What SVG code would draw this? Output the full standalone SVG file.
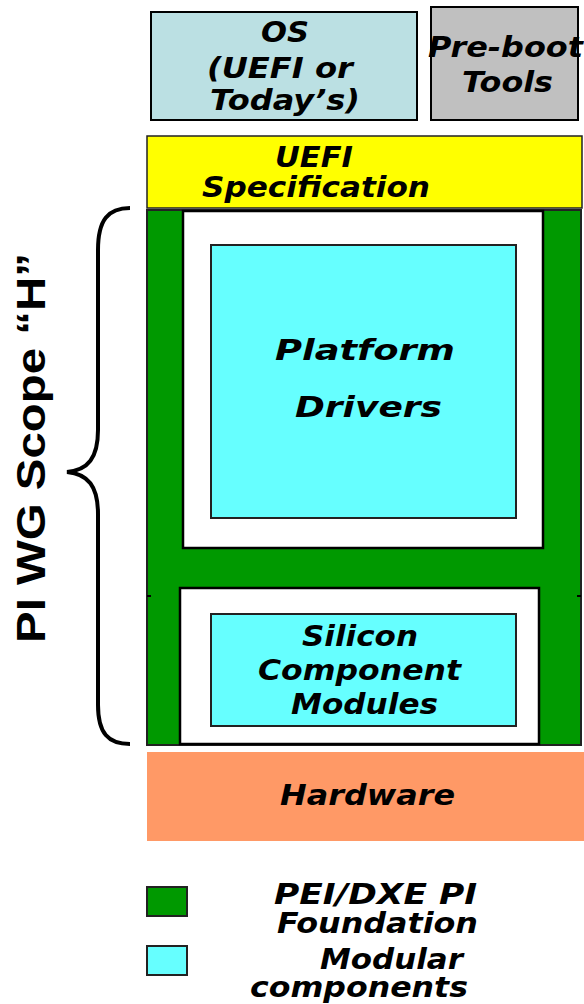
<svg xmlns="http://www.w3.org/2000/svg" width="584" height="1004" viewBox="0 0 584 1004">
  <style>
    .t { font-family: "DejaVu Sans", Verdana, sans-serif; font-weight: bold; font-style: italic; font-size: 29px; fill: #000; }
    .box { stroke: #000; stroke-width: 2; }
    .mod { fill: #66FFFF; stroke: #222; stroke-width: 2; }
    .fnd { fill: #009900; stroke: #222; stroke-width: 2; }
    .hole { fill: #FFFFFF; stroke: #000; stroke-width: 2.5; }
  </style>

  <!-- OS layer -->
  <g id="os">
    <rect x="151" y="12" width="266" height="108" fill="#BBE0E3" class="box"/>
    <text class="t" x="261" y="42" textLength="48" lengthAdjust="spacingAndGlyphs">OS</text>
    <text class="t" x="207" y="78" textLength="146" lengthAdjust="spacingAndGlyphs">(UEFI or</text>
    <text class="t" x="210" y="110" textLength="150" lengthAdjust="spacingAndGlyphs">Today’s)</text>
  </g>

  <!-- Pre-boot tools -->
  <g id="preboot">
    <rect x="431" y="7" width="147" height="113" fill="#C0C0C0" class="box"/>
    <text class="t" x="428" y="57" textLength="155" lengthAdjust="spacingAndGlyphs">Pre-boot</text>
    <text class="t" x="462" y="92" textLength="91" lengthAdjust="spacingAndGlyphs">Tools</text>
  </g>

  <!-- UEFI specification layer -->
  <g id="uefi-spec">
    <rect x="147" y="136" width="435" height="72" fill="#FFFF00" stroke="#222" stroke-width="1.5"/>
    <text class="t" x="275" y="167" textLength="78" lengthAdjust="spacingAndGlyphs">UEFI</text>
    <text class="t" x="202" y="197" textLength="228" lengthAdjust="spacingAndGlyphs">Specification</text>
  </g>

  <!-- PI foundation "H" -->
  <g id="pi-foundation">
    <rect x="147" y="210" width="434" height="535" class="fnd"/>
    <rect x="183" y="211" width="360" height="337" class="hole"/>
    <rect x="180" y="588" width="359" height="156" class="hole"/>
    <line x1="147" y1="596" x2="151" y2="596" stroke="#000" stroke-width="2"/>
    <line x1="577" y1="596" x2="581" y2="596" stroke="#000" stroke-width="2"/>
  </g>

  <!-- Platform drivers -->
  <g id="platform-drivers">
    <rect x="211" y="245" width="305" height="273" class="mod"/>
    <text class="t" x="275" y="360" font-size="30" textLength="180" lengthAdjust="spacingAndGlyphs">Platform</text>
    <text class="t" x="295" y="417" font-size="30" textLength="147" lengthAdjust="spacingAndGlyphs">Drivers</text>
  </g>

  <!-- Silicon component modules -->
  <g id="silicon-modules">
    <rect x="211" y="614" width="305" height="112" class="mod"/>
    <text class="t" x="302" y="646" textLength="116" lengthAdjust="spacingAndGlyphs">Silicon</text>
    <text class="t" x="258" y="680" textLength="203" lengthAdjust="spacingAndGlyphs">Component</text>
    <text class="t" x="291" y="714" textLength="147" lengthAdjust="spacingAndGlyphs">Modules</text>
  </g>

  <!-- Hardware layer -->
  <g id="hardware">
    <rect x="147" y="752" width="437" height="89" fill="#FF9966"/>
    <text class="t" x="280" y="805" textLength="175" lengthAdjust="spacingAndGlyphs">Hardware</text>
  </g>

  <!-- Scope brace and label -->
  <g id="scope">
    <path d="M130,208 C108,208 98,220 98,250 L98,430 C98,458 88,470 67,472 C88,474 98,486 98,514 L98,705 C98,733 108,744 130,744" fill="none" stroke="#000" stroke-width="4"/>
    <text font-family="Liberation Sans, Arial, sans-serif" font-weight="bold" font-size="41" transform="translate(45,643) rotate(-90)" textLength="390" lengthAdjust="spacingAndGlyphs">PI WG Scope “H”</text>
  </g>

  <!-- Legend -->
  <g id="legend-foundation">
    <rect x="147" y="887" width="40" height="29" class="fnd" stroke-width="2.5"/>
    <text class="t" x="274" y="904" textLength="203" lengthAdjust="spacingAndGlyphs">PEI/DXE PI</text>
    <text class="t" x="277" y="933" textLength="201" lengthAdjust="spacingAndGlyphs">Foundation</text>
  </g>
  <g id="legend-modular">
    <rect x="147" y="946" width="40" height="29" class="mod" stroke-width="2.5"/>
    <text class="t" x="320" y="969" textLength="143" lengthAdjust="spacingAndGlyphs">Modular</text>
    <text class="t" x="250" y="997" textLength="218" lengthAdjust="spacingAndGlyphs">components</text>
  </g>
</svg>
